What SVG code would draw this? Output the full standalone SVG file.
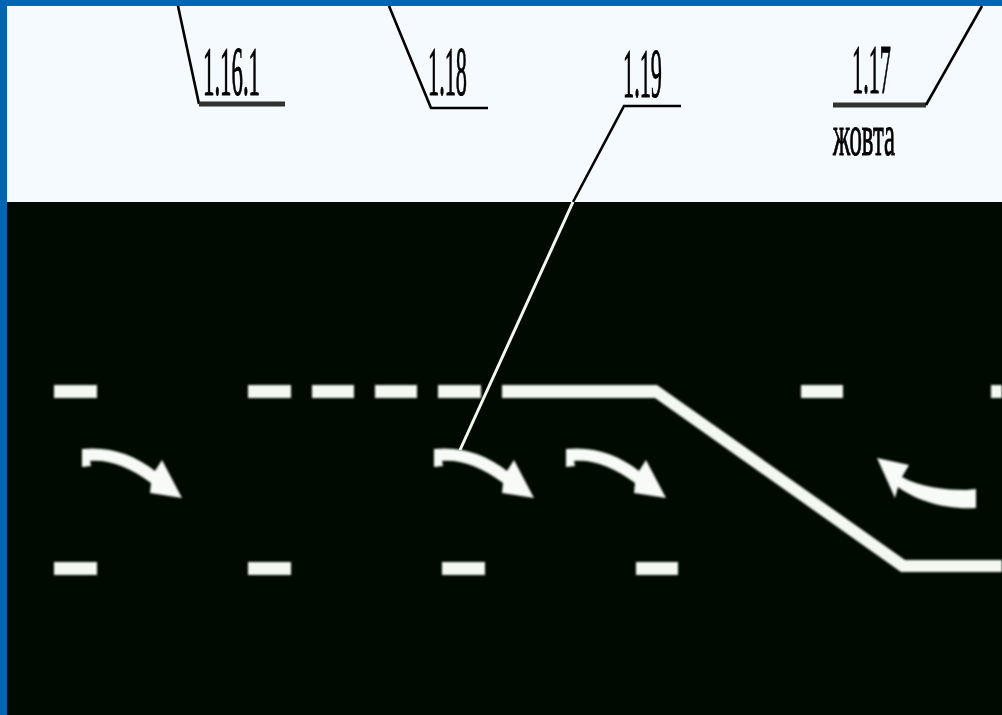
<svg xmlns="http://www.w3.org/2000/svg" xmlns:xlink="http://www.w3.org/1999/xlink" width="1002" height="715" viewBox="0 0 1002 715">
<style>
.lbl{font-family:"Liberation Serif","Times New Roman",serif;font-size:70px;fill:#000;stroke:#000;stroke-width:1.1}
.lead{fill:none;stroke:#000;stroke-width:2.6}
.ul{fill:none;stroke:#333;stroke-width:5}
.mark{fill:#f4f9f0}
.arrow{fill:#f7faf7}
</style>
<defs>
<filter id="soft" filterUnits="userSpaceOnUse" x="0" y="0" width="1002" height="715"><feGaussianBlur stdDeviation="0.9"/></filter>
<filter id="softer" filterUnits="userSpaceOnUse" x="0" y="0" width="1002" height="715"><feGaussianBlur stdDeviation="0.6"/></filter>
<path id="curve" d="M82 449C110 446 135 455 155 471L162 460L182 498L150 493L151 483C130 467 108 459 90 461L91 466L82 467Z"/>
</defs>
<rect width="1002" height="715" fill="#0066b3"/>
<rect x="7" y="6" width="995" height="196" fill="#f5faff"/>
<rect x="7" y="202" width="995" height="513" fill="#000a00"/>
<g id="markings" class="mark" filter="url(#soft)">
<rect x="54" y="385" width="43" height="13"/>
<rect x="248" y="385" width="43" height="13"/>
<rect x="312" y="385" width="42" height="13"/>
<rect x="375" y="385" width="42" height="13"/>
<rect x="438" y="385" width="43" height="13"/>
<rect x="801" y="385" width="42" height="13"/>
<rect x="991" y="385" width="11" height="13"/>
<polygon points="502,385 657,385 905,560 1002,560 1002,572 901,572 655,398 502,398"/>
<rect x="54" y="562" width="43" height="13"/>
<rect x="248" y="562" width="43" height="13"/>
<rect x="442" y="562" width="43" height="13"/>
<rect x="636" y="562" width="42" height="13"/>
</g>
<g id="arrows" class="arrow" filter="url(#soft)">
<use xlink:href="#curve" href="#curve"/>
<use xlink:href="#curve" href="#curve" x="352"/>
<use xlink:href="#curve" href="#curve" x="484"/>
<path d="M877 458L909 465L902 477C920 487 945 490 966 490L976 489L976 508C945 510 915 500 898 487L895 498Z"/>
</g>
<g id="connectors" filter="url(#softer)">
<path class="lead" d="M178 6L199 104"/>
<path class="ul" d="M199 104H285"/>
<path class="lead" d="M389 6L431 108H488"/>
<path class="lead" d="M681 106H624L573 202"/>
<path d="M573 202L460 450" fill="none" stroke="#f4f9ee" stroke-width="3"/>
<path class="ul" d="M833 105H926"/>
<path class="lead" d="M926 105L982 6"/>
</g>
<g id="label-1-16-1" filter="url(#softer)"><text class="lbl" x="203" y="95" textLength="57" lengthAdjust="spacingAndGlyphs">1.16.1</text></g>
<g id="label-1-18" filter="url(#softer)"><text class="lbl" x="428" y="95" textLength="39" lengthAdjust="spacingAndGlyphs">1.18</text></g>
<g id="label-1-19" filter="url(#softer)"><text class="lbl" x="623" y="97" textLength="39" lengthAdjust="spacingAndGlyphs">1.19</text></g>
<g id="label-1-17" filter="url(#softer)"><text class="lbl" x="852" y="93" textLength="39" lengthAdjust="spacingAndGlyphs">1.17</text></g>
<g id="label-color" filter="url(#softer)"><text class="lbl" x="833" y="155" style="font-size:60px" textLength="62" lengthAdjust="spacingAndGlyphs">жовта</text></g>
</svg>
